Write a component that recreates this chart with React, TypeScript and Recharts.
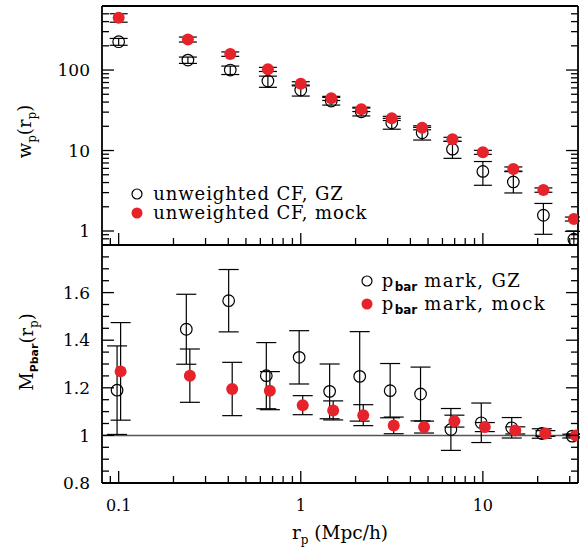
import React from "react";
import {
  ScatterChart,
  Scatter,
  XAxis,
  YAxis,
  ErrorBar,
  ReferenceLine,
  Legend,
} from "recharts";

const SERIF = '"DejaVu Serif", serif';
const SANS = '"DejaVu Sans", sans-serif';
const RED = "#e6232a";

// projected separation bins, Mpc/h
const rp = [0.1, 0.24, 0.41, 0.66, 1.0, 1.47, 2.15, 3.16, 4.64, 6.81, 10, 14.7, 21.5, 31.6];

// unweighted projected correlation function
const wpGZ = [225, 133, 100, 73, 56.5, 41.2, 30.3, 22.1, 16.6, 10.4, 5.5, 4.07, 1.57, 0.79];
const wpGZErrLo = [22, 12, 12, 12, 9, 4.5, 3.4, 3.7, 3.1, 2.4, 1.8, 1.1, 0.66, 0.5];
const wpGZErrHi = [22, 12, 12, 11, 8.6, 4.5, 3.4, 3.0, 2.8, 2.6, 1.8, 1.4, 0.63, 0.2];
const wpMock = [447, 240, 158, 102, 67.6, 44.5, 32.5, 25.1, 19.2, 13.8, 9.5, 5.9, 3.23, 1.41];
const wpMockErr = [54, 17, 10, 6, 4, 2.6, 2, 1.5, 1.1, 0.8, 0.55, 0.35, 0.2, 0.08];

// p_bar marked correlation function
const markGZ = [1.19, 1.446, 1.566, 1.251, 1.328, 1.185, 1.248, 1.188, 1.174, 1.025, 1.053, 1.032, 1.008, 0.997];
const markGZErr = [0.186, 0.147, 0.131, 0.139, 0.112, 0.115, 0.188, 0.114, 0.113, 0.088, 0.083, 0.043, 0.02, 0.008];
const markMock = [1.269, 1.251, 1.195, 1.188, 1.127, 1.105, 1.085, 1.042, 1.035, 1.06, 1.035, 1.021, 1.008, 1.0];
const markMockErr = [0.205, 0.112, 0.112, 0.08, 0.04, 0.04, 0.044, 0.035, 0.025, 0.025, 0.019, 0.015, 0.012, 0.006];

// axis ticks
const rpMajor = [0.1, 1, 10];
const rpMinor = [0.09, 0.2, 0.3, 0.4, 0.5, 0.6, 0.7, 0.8, 0.9, 2, 3, 4, 5, 6, 7, 8, 9, 20, 30];
const wpMajor = [1, 10, 100];
const wpMinor = [0.8, 0.9, 2, 3, 4, 5, 6, 7, 8, 9, 20, 30, 40, 50, 60, 70, 80, 90, 200, 300, 400, 500];
const markMajor = [0.8, 1, 1.2, 1.4, 1.6];
const markMinor = [0.85, 0.9, 0.95, 1.05, 1.1, 1.15, 1.25, 1.3, 1.35, 1.45, 1.5, 1.55, 1.65, 1.7, 1.75];

const W = 580;
const TOP_H = 246; // panel 6..245
const BOT_TOP = 244;
const BOT_H = 303; // panel 245..483
const LEFT_W = 102;
const RIGHT_W = 2;

const RP_DOMAIN = [0.081, 33.3];
const WP_DOMAIN = [0.67, 625];
const MARK_DOMAIN = [0.8, 1.8];

// bottom panel points are nudged sideways so the two samples don't overlap
const DODGE_GZ = 0.98;
const DODGE_MOCK = 1.025;

const wpRowsGZ = rp.map((r, i) => ({ x: r, y: wpGZ[i], e: [wpGZErrLo[i], wpGZErrHi[i]] }));
const wpRowsMock = rp.map((r, i) => ({ x: r, y: wpMock[i], e: wpMockErr[i] }));
const markRowsGZ = rp.map((r, i) => ({ x: r * DODGE_GZ, y: markGZ[i], e: markGZErr[i] }));
const markRowsMock = rp.map((r, i) => ({ x: r * DODGE_MOCK, y: markMock[i], e: markMockErr[i] }));

const AXIS_LINE = { stroke: "#000", strokeWidth: 1.8 };

type Side = "left" | "right" | "top" | "bottom";

// inward-pointing tick marks, labels only on left/bottom majors
function sideTick(side: Side, major: number[], labels: boolean) {
  return function TickMark(props: any) {
    const { x, y, payload } = props;
    const v = payload.value as number;
    const isMajor = major.some((m) => Math.abs(m - v) < 1e-6);
    const len = isMajor ? 12 : 7;
    const dx = side === "left" ? len : side === "right" ? -len : 0;
    const dy = side === "top" ? len : side === "bottom" ? -len : 0;
    return (
      <g>
        <line x1={x} y1={y} x2={x + dx} y2={y + dy} stroke="#000" strokeWidth={1.3} />
        {labels && isMajor && side === "left" && (
          <text x={x - 12} y={y} dy="0.36em" textAnchor="end" fontFamily={SERIF} fontSize={17} fill="#000">
            {v}
          </text>
        )}
        {labels && isMajor && side === "bottom" && (
          <text x={x} y={y + 28} textAnchor="middle" fontFamily={SERIF} fontSize={16} fill="#000">
            {v}
          </text>
        )}
      </g>
    );
  };
}

const openCircle = (props: any) => (
  <circle cx={props.cx} cy={props.cy} r={5.8} fill="none" stroke="#000" strokeWidth={1.2} />
);
const redDot = (props: any) => <circle cx={props.cx} cy={props.cy} r={6} fill={RED} />;
const noMark = () => <g />;

type Row = { filled: boolean; text: React.ReactNode };

function LegendBox({ rows, rowH, gap, spacing }: { rows: Row[]; rowH: number; gap: number; spacing: number }) {
  return (
    <div>
      {rows.map((row, i) => (
        <div key={i} style={{ display: "flex", alignItems: "center", height: rowH }}>
          <svg width={14} height={14}>
            {row.filled ? (
              <circle cx={7} cy={7} r={5.5} fill={RED} />
            ) : (
              <circle cx={7} cy={7} r={5} fill="none" stroke="#000" strokeWidth={1.2} />
            )}
          </svg>
          <span
            style={{
              marginLeft: gap,
              fontFamily: SERIF,
              fontSize: 18,
              letterSpacing: spacing,
              lineHeight: `${rowH}px`,
              whiteSpace: "nowrap",
              color: "#000",
            }}
          >
            {row.text}
          </span>
        </div>
      ))}
    </div>
  );
}

const pbar = (
  <>
    p
    <span style={{ fontFamily: SANS, fontWeight: "bold", fontSize: 12, letterSpacing: 0, verticalAlign: "-0.3em", lineHeight: 0 }}>
      bar
    </span>
  </>
);

function WpTitle(props: any) {
  const vb = props.viewBox;
  const cy = vb.y + vb.height / 2 + 6;
  return (
    <text transform={`translate(31, ${cy}) rotate(-90)`} textAnchor="middle" fontFamily={SERIF} fontSize={18} fill="#000">
      w<tspan dy={5} fontSize={12}>p</tspan>
      <tspan dy={-5}>(r</tspan>
      <tspan dy={5} fontSize={12}>p</tspan>
      <tspan dy={-5}>)</tspan>
    </text>
  );
}

function MarkTitle(props: any) {
  const vb = props.viewBox;
  const cy = vb.y + vb.height / 2 - 12;
  return (
    <text transform={`translate(33, ${cy}) rotate(-90)`} textAnchor="middle" fontFamily={SERIF} fontSize={18} fill="#000">
      M<tspan dy={5} fontSize={11} fontFamily={SANS} fontWeight="bold">Pbar</tspan>
      <tspan dy={-5}>(r</tspan>
      <tspan dy={5} fontSize={12}>p</tspan>
      <tspan dy={-5}>)</tspan>
    </text>
  );
}

function RpTitle(props: any) {
  const vb = props.viewBox;
  return (
    <text x={vb.x + vb.width / 2} y={vb.y + 56} textAnchor="middle" fontFamily={SERIF} fontSize={18.5} fill="#000">
      r<tspan dy={5} fontSize={12}>p</tspan>
      <tspan dy={-5}> (Mpc/h)</tspan>
    </text>
  );
}

const xAxisCommon = {
  type: "number" as const,
  scale: "log" as const,
  domain: RP_DOMAIN,
  allowDataOverflow: true,
  ticks: [...rpMajor, ...rpMinor],
  interval: 0 as const,
  tickSize: 0,
  tickMargin: 0,
  tickLine: false,
  axisLine: AXIS_LINE,
};

const yAxisCommon = {
  type: "number" as const,
  allowDataOverflow: true,
  interval: 0 as const,
  tickSize: 0,
  tickMargin: 0,
  tickLine: false,
  axisLine: AXIS_LINE,
};

export default function App() {
  return (
    <div style={{ position: "absolute", left: 0, top: 0, width: W, height: 547, background: "#fff" }}>
      <div style={{ position: "absolute", left: 0, top: 0 }}>
        <ScatterChart width={W} height={TOP_H} margin={{ top: 5, right: 0, bottom: 0, left: 0 }}>
          <XAxis xAxisId="b" dataKey="x" {...xAxisCommon} height={1} tick={sideTick("bottom", rpMajor, false)} />
          <XAxis xAxisId="t" orientation="top" {...xAxisCommon} height={1} tick={sideTick("top", rpMajor, false)} />
          <YAxis
            yAxisId="l"
            dataKey="y"
            {...yAxisCommon}
            scale="log"
            domain={WP_DOMAIN}
            ticks={[...wpMajor, ...wpMinor]}
            width={LEFT_W}
            tick={sideTick("left", wpMajor, true)}
            label={{ content: WpTitle }}
          />
          <YAxis
            yAxisId="r"
            orientation="right"
            {...yAxisCommon}
            scale="log"
            domain={WP_DOMAIN}
            ticks={[...wpMajor, ...wpMinor]}
            width={RIGHT_W}
            tick={sideTick("right", wpMajor, false)}
          />
          <Scatter name="unweighted CF, GZ" data={wpRowsGZ} xAxisId="b" yAxisId="l" shape={openCircle} isAnimationActive={false}>
            <ErrorBar dataKey="e" direction="y" width={9} stroke="#000" strokeWidth={1.2} isAnimationActive={false} />
          </Scatter>
          <Scatter name="unweighted CF, mock" data={wpRowsMock} xAxisId="b" yAxisId="l" shape={redDot} isAnimationActive={false} />
          <Scatter data={wpRowsMock} xAxisId="b" yAxisId="l" shape={noMark} isAnimationActive={false} legendType="none">
            <ErrorBar dataKey="e" direction="y" width={9} stroke="#000" strokeWidth={1.2} isAnimationActive={false} />
          </Scatter>
          <Legend
            layout="vertical"
            align="center"
            verticalAlign="middle"
            wrapperStyle={{ left: 129.7, top: 184, width: "auto", height: "auto" }}
            content={() => (
              <LegendBox
                rowH={19}
                gap={9.6}
                spacing={0.9}
                rows={[
                  { filled: false, text: "unweighted CF, GZ" },
                  { filled: true, text: "unweighted CF, mock" },
                ]}
              />
            )}
          />
        </ScatterChart>
      </div>
      <div style={{ position: "absolute", left: 0, top: BOT_TOP }}>
        <ScatterChart width={W} height={BOT_H} margin={{ top: 0, right: 0, bottom: 0, left: 0 }}>
          <XAxis
            xAxisId="b"
            dataKey="x"
            {...xAxisCommon}
            height={64}
            tick={sideTick("bottom", rpMajor, true)}
            label={{ content: RpTitle }}
          />
          <XAxis xAxisId="t" orientation="top" {...xAxisCommon} height={1} tick={sideTick("top", rpMajor, false)} />
          <YAxis
            yAxisId="l"
            dataKey="y"
            {...yAxisCommon}
            domain={MARK_DOMAIN}
            ticks={[...markMajor, ...markMinor]}
            width={LEFT_W}
            tick={sideTick("left", markMajor, true)}
            label={{ content: MarkTitle }}
          />
          <YAxis
            yAxisId="r"
            orientation="right"
            {...yAxisCommon}
            domain={MARK_DOMAIN}
            ticks={[...markMajor, ...markMinor]}
            width={RIGHT_W}
            tick={sideTick("right", markMajor, false)}
          />
          <ReferenceLine y={1} xAxisId="b" yAxisId="l" stroke="#555" strokeWidth={1.5} />
          <Scatter name="pbar mark, GZ" data={markRowsGZ} xAxisId="b" yAxisId="l" shape={openCircle} isAnimationActive={false}>
            <ErrorBar dataKey="e" direction="y" width={10} stroke="#000" strokeWidth={1.2} isAnimationActive={false} />
          </Scatter>
          <Scatter name="pbar mark, mock" data={markRowsMock} xAxisId="b" yAxisId="l" shape={redDot} isAnimationActive={false} />
          <Scatter data={markRowsMock} xAxisId="b" yAxisId="l" shape={noMark} isAnimationActive={false} legendType="none">
            <ErrorBar dataKey="e" direction="y" width={10} stroke="#000" strokeWidth={1.2} isAnimationActive={false} />
          </Scatter>
          <Legend
            layout="vertical"
            align="center"
            verticalAlign="middle"
            wrapperStyle={{ left: 360.3, top: 25, width: "auto", height: "auto" }}
            content={() => (
              <LegendBox
                rowH={23.4}
                gap={7.4}
                spacing={1.4}
                rows={[
                  { filled: false, text: <>{pbar} mark, GZ</> },
                  { filled: true, text: <>{pbar} mark, mock</> },
                ]}
              />
            )}
          />
        </ScatterChart>
      </div>
    </div>
  );
}
